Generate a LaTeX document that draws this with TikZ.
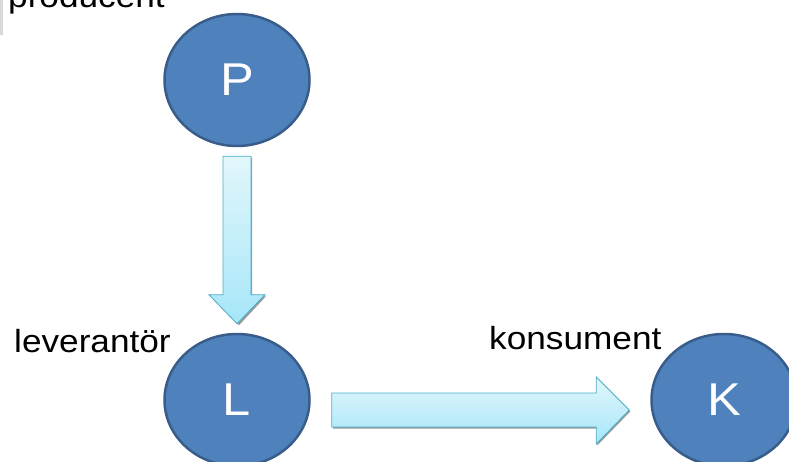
\documentclass[tikz,border=0pt]{standalone}
\usepackage{fontspec}
\setmainfont{Liberation Sans}
\usetikzlibrary{calc,shapes.geometric}
\definecolor{circfill}{HTML}{4F81BD}
\definecolor{circdraw}{HTML}{385D8A}
\definecolor{arrtop}{HTML}{E2F7FC}
\definecolor{arrbot}{HTML}{A6E6F8}
\definecolor{arrdraw}{HTML}{4BACC6}
\definecolor{barcol}{HTML}{D9D9D9}
\begin{document}
\begin{tikzpicture}[x=1pt,y=-1pt,
  circ/.style={ellipse, draw=circdraw, line width=2.5pt, fill=circfill,
    minimum width=145pt, minimum height=132pt, inner sep=0pt, text=white,
    font=\fontsize{46}{46}\selectfont},
  lbl/.style={font=\fontsize{32}{32}\selectfont, inner sep=0pt, anchor=base west},
  blockarrow/.style={draw=arrdraw, line width=0.8pt, top color=arrtop,
    bottom color=arrbot, line join=miter},
  arrshadow/.style={fill=black!40, draw=none}]
\useasboundingbox (0,0) rectangle (789,462);
\fill[barcol] (0,0) rectangle (3,35);
% circles
\node[circ] (P) at (237,80) {\scalebox{1.1}[1]{P}};
\node[circ] (L) at (237,400) {\scalebox{1.1}[1]{L}};
\node[circ] (K) at (724,400) {\scalebox{1.1}[1]{K}};
% labels
\node[lbl] (prod) at (8,8) {\scalebox{1.1}[1]{producent}};
\node[lbl] (lev) at (14,352) {\scalebox{1.1}[1]{leverantör}};
\node[lbl] (kon) at (489,349) {\scalebox{1.1}[1]{konsument}};
% vertical block arrow from P to L
\coordinate (va) at ($(P.south)+(0,9)$);
\coordinate (vb) at ($(L.north)+(0,-9)$);
\fill[arrshadow] ($(va)+(-13,1.5)$) -- ($(va)+(15,1.5)$) -- ($(vb)+(15,-27.5)$) -- ($(vb)+(29,-27.5)$)
  -- ($(vb)+(2,1.5)$) -- ($(vb)+(-27,-27.5)$) -- ($(vb)+(-13,-27.5)$) -- cycle;
\draw[blockarrow] ($(va)+(-14,0)$) -- ($(va)+(14,0)$) -- ($(vb)+(14,-29)$) -- ($(vb)+(28,-29)$)
  -- (vb) -- ($(vb)+(-28,-29)$) -- ($(vb)+(-14,-29)$) -- cycle;
% horizontal block arrow from L to K
\coordinate (ha) at ($(L.east)+(21,10)$);
\coordinate (hb) at ($(K.west)+(-21,10)$);
\fill[arrshadow] ($(ha)+(1,-16)$) -- ($(hb)+(-32,-16)$) -- ($(hb)+(-32,-32)$) -- ($(hb)+(1,1.5)$)
  -- ($(hb)+(-32,35.5)$) -- ($(hb)+(-32,18.5)$) -- ($(ha)+(1,18.5)$) -- cycle;
\draw[blockarrow] ($(ha)+(0,-17)$) -- ($(hb)+(-33,-17)$) -- ($(hb)+(-33,-33)$) -- (hb)
  -- ($(hb)+(-33,34)$) -- ($(hb)+(-33,17)$) -- ($(ha)+(0,17)$) -- cycle;
\end{tikzpicture}
\end{document}
